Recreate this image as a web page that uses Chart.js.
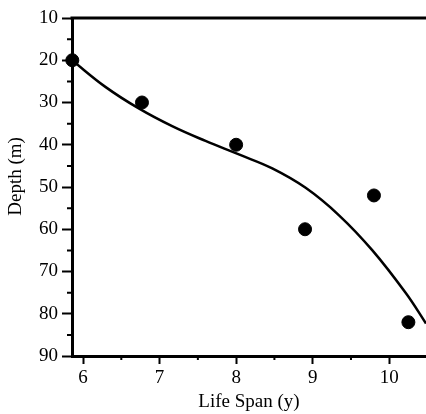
<!DOCTYPE html>
<html>
<head>
<meta charset="utf-8">
<script src="https://cdn.jsdelivr.net/npm/chart.js@4"></script>
<style>
  html, body { margin: 0; padding: 0; background: #fff; }
  #wrap { width: 426px; height: 414px; }
</style>
</head>
<body>
<div id="wrap"><canvas id="chart"></canvas></div>
<script>
// ================= DATA =================
const lifeSpan = [5.86, 6.77, 8.0, 8.9, 9.8, 10.25];
const depth = [20, 30, 40, 60, 52, 82];

// fitted curve
const fitX = [5.856, 6.292, 6.728, 7.164, 7.600, 8.036, 8.472, 8.908, 9.344, 9.78, 10.216, 10.48];
const fitY = [20, 26.3, 31.4, 35.6, 39.1, 42.3, 45.6, 50.2, 56.7, 65.0, 75.1, 82.3];

const xTicks = [6, 7, 8, 9, 10];
const xMinor = [6.5, 7.5, 8.5, 9.5];
const yTicks = [10, 20, 30, 40, 50, 60, 70, 80, 90];
const yMinor = [15, 25, 35, 45, 55, 65, 75, 85];

const yTitle = "Depth (m)";

// ================= STYLE =================
const FONT = "'Liberation Serif', 'Times New Roman', serif";
Chart.defaults.font.family = FONT;
Chart.defaults.font.size = 19;
Chart.defaults.color = "#000";

// minor ticks, top frame line, y title
const extras = {
  id: "extras",
  afterDraw(chart) {
    const ctx = chart.ctx;
    const a = chart.chartArea;
    const xs = chart.scales.x, ys = chart.scales.y;
    ctx.save();
    ctx.strokeStyle = "#000";
    ctx.lineWidth = 2;
    ctx.beginPath();
    yMinor.forEach(v => {
      const p = ys.getPixelForValue(v);
      ctx.moveTo(a.left - 5, p);
      ctx.lineTo(a.left, p);
    });
    xMinor.forEach(v => {
      const p = xs.getPixelForValue(v);
      ctx.moveTo(p, a.bottom);
      ctx.lineTo(p, a.bottom + 4);
    });
    ctx.stroke();
    ctx.lineWidth = 3;
    ctx.beginPath();
    ctx.moveTo(a.left - 1.5, a.top);
    ctx.lineTo(a.right, a.top);
    ctx.stroke();

    // y title, a bit above the middle like the original
    ctx.translate(16, ys.getPixelForValue(47.5));
    ctx.rotate(-Math.PI / 2);
    ctx.fillStyle = "#000";
    ctx.font = "19px " + FONT;
    ctx.textAlign = "center";
    ctx.textBaseline = "middle";
    ctx.fillText(yTitle, 0, 0);
    ctx.restore();
  }
};

// ================= CHART =================
new Chart(document.getElementById("chart"), {
  type: "scatter",
  data: {
    datasets: [
      {
        label: "fit",
        type: "line",
        data: fitX.map((x, i) => ({ x: x, y: fitY[i] })),
        borderColor: "#000",
        borderWidth: 2.5,
        pointRadius: 0,
        tension: 0.4,
        fill: false
      },
      {
        label: "data",
        data: lifeSpan.map((x, i) => ({ x: x, y: depth[i] })),
        backgroundColor: "#000",
        borderColor: "#000",
        pointRadius: 6.5,
        clip: false
      }
    ]
  },
  options: {
    responsive: true,
    maintainAspectRatio: false,
    animation: false,
    layout: { autoPadding: false, padding: { top: 18, right: 0, left: 0, bottom: 0 } },
    plugins: { legend: { display: false }, tooltip: { enabled: false } },
    scales: {
      x: {
        type: "linear",
        min: 5.856,
        max: 10.48,
        afterBuildTicks: s => { s.ticks = xTicks.map(v => ({ value: v })); },
        afterFit: s => { s.height = 58; s.paddingLeft = 0; s.paddingRight = 0; },
        grid: { drawOnChartArea: false, drawTicks: true, tickLength: 8, tickWidth: 2, tickColor: "#000" },
        border: { color: "#000", width: 3 },
        ticks: { padding: 3, maxRotation: 0, font: { size: 19 } },
        title: { display: true, text: "Life Span (y)", font: { size: 19 }, padding: { top: 0, bottom: 1 } }
      },
      y: {
        type: "linear",
        reverse: true,
        min: 10,
        max: 90,
        afterBuildTicks: s => { s.ticks = yTicks.map(v => ({ value: v })); },
        afterFit: s => { s.width = 72; s.paddingTop = 0; s.paddingBottom = 0; },
        grid: { drawOnChartArea: false, drawTicks: true, tickLength: 10, tickWidth: 2, tickColor: "#000" },
        border: { color: "#000", width: 3 },
        ticks: { padding: 4, font: { size: 19 } }
      }
    }
  },
  plugins: [extras]
});
</script>
</body>
</html>
